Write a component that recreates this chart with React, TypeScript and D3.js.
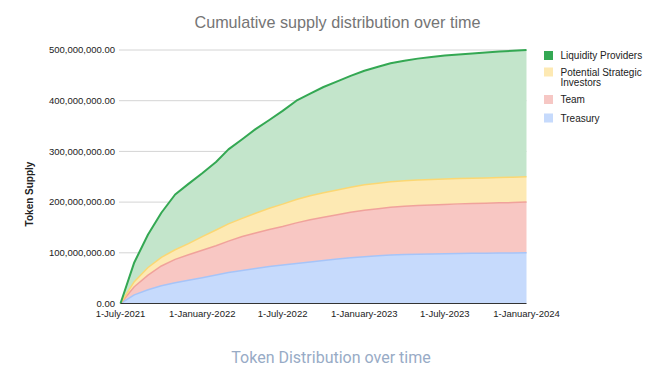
import React from "react";
import * as d3 from "d3";

const seriesNames = ["Treasury", "Team", "Potential Strategic Investors", "Liquidity Providers"];
// values in millions of tokens, monthly from 1-July-2021 to 1-January-2024
const treasury = [0, 17, 27, 35, 41, 46, 51, 56, 61, 65, 69, 73, 76, 79, 82, 85, 88, 90, 92, 94, 95.5, 96.5, 97, 97.5, 98, 98.5, 99, 99.3, 99.6, 99.8, 100];
const team = [0, 16, 29, 39, 46, 50, 54, 58, 62, 67, 70, 73, 76, 80, 83, 85, 87, 90, 92, 93, 94.5, 95.5, 96.5, 97, 97.5, 98, 98, 98.2, 98.9, 99.2, 100];
const strategic = [0, 10, 15, 17, 19, 22, 27, 31, 34, 36, 39, 42, 44, 46, 47.5, 48.5, 49, 49.5, 50, 50, 50, 50, 50, 50, 50, 50, 50, 50, 50, 50, 50];
const liquidity = [0, 38, 65, 88, 109, 118, 125, 134, 147, 156, 166, 174, 184, 195, 201.5, 208.5, 214, 219.5, 225, 230, 234, 237, 239.5, 241.5, 243.5, 244.5, 246, 247.5, 248.5, 249.5, 250];
const months = d3.timeMonth.range(new Date(2021, 6, 1), new Date(2024, 0, 2));
const xTickDates = [new Date(2021, 6, 1), new Date(2022, 0, 1), new Date(2022, 6, 1), new Date(2023, 0, 1), new Date(2023, 6, 1), new Date(2024, 0, 1)];
const yTicks = [0, 100000000, 200000000, 300000000, 400000000, 500000000];

const fills = ["#c6dafc", "#f8c7c3", "#fde9b3", "#c3e5cb"];
const strokes = ["#a6c4f8", "#f0a29b", "#fbd773", "#34a853"];
const legendSwatch = ["#c6dafc", "#f6c7c4", "#fde9b3", "#34a853"];

export default function App() {
  const width = 660, height = 375;
  const left = 120.5, right = 526.5, top = 50, bottom = 303.5;
  const rows = months.map((d, i) => ({
    date: d,
    Treasury: treasury[i] * 1e6,
    Team: team[i] * 1e6,
    "Potential Strategic Investors": strategic[i] * 1e6,
    "Liquidity Providers": liquidity[i] * 1e6,
  }));
  const x = d3.scaleTime().domain([months[0], months[months.length - 1]]).range([left, right]);
  const y = d3.scaleLinear().domain([0, 500000000]).range([bottom, top]);
  const stack = d3.stack<any>().keys(seriesNames)(rows);
  const area = d3.area<any>().x((d) => x(d.data.date)).y0((d) => y(d[0])).y1((d) => y(d[1]));
  const line = d3.line<any>().x((d) => x(d.data.date)).y((d) => y(d[1]));
  const fmt = d3.format(",.2f");
  const tfmt = d3.timeFormat("%B-%Y");
  const font = "'Liberation Sans', Arial, sans-serif";

  const legendItems = [
    { name: "Liquidity Providers", idx: 3, lines: ["Liquidity Providers"], cy: 55.5 },
    { name: "Potential Strategic Investors", idx: 2, lines: ["Potential Strategic", "Investors"], cy: 72 },
    { name: "Team", idx: 1, lines: ["Team"], cy: 99.5 },
    { name: "Treasury", idx: 0, lines: ["Treasury"], cy: 118 },
  ];

  return (
    <svg width={width} height={height} style={{ position: "absolute", left: 0, top: 0, background: "#fff" }} fontFamily={font}>
      <text x={337.5} y={28} textAnchor="middle" fontSize={16.2} fill="#757575">
        Cumulative supply distribution over time
      </text>
      {yTicks.map((t) => (
        <g key={t}>
          {t !== 0 && <line x1={119} x2={right} y1={y(t)} y2={y(t)} stroke="#d4d4d4" strokeWidth={1} />}
          <text x={115} y={y(t)} dy="0.35em" textAnchor="end" fontSize={9.5} fill="#222">
            {fmt(t)}
          </text>
        </g>
      ))}
      {stack.map((s, i) => (
        <path key={"a" + i} d={area(s) || ""} fill={fills[i]} stroke="none" />
      ))}
      {stack.map((s, i) => (
        <path key={"l" + i} d={line(s) || ""} fill="none" stroke={strokes[i]} strokeWidth={i === 3 ? 2 : 1.5} strokeLinejoin="round" />
      ))}
      <line x1={left} x2={right} y1={bottom} y2={bottom} stroke="#333" strokeWidth={1} />
      {xTickDates.map((d, i) => (
        <text key={i} x={x(d)} y={317} textAnchor="middle" fontSize={9.5} fill="#222">
          {"1-" + tfmt(d)}
        </text>
      ))}
      <text transform={`translate(33,194) rotate(-90)`} textAnchor="middle" fontSize={10} fontWeight="bold" fill="#222">
        Token Supply
      </text>
      {legendItems.map((it) => (
        <g key={it.name}>
          <rect x={544} y={it.cy - 4.5} width={9} height={9} fill={legendSwatch[it.idx]} />
          {it.lines.map((ln, j) => (
            <text key={j} x={560.5} y={it.cy + j * 10.5} dy="0.35em" fontSize={10} fill="#222">
              {ln}
            </text>
          ))}
        </g>
      ))}
      <text x={331} y={363} textAnchor="middle" fontSize={16} fill="#98abc6" fontFamily="Roboto, sans-serif">
        Token Distribution over time
      </text>
    </svg>
  );
}
